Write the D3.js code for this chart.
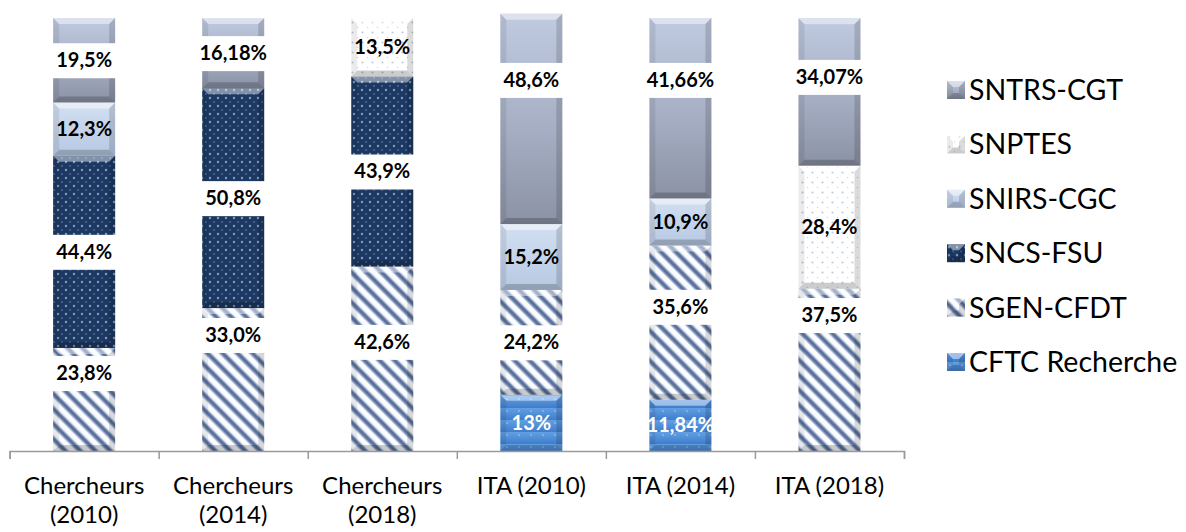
<!DOCTYPE html>
<html>
<head>
<meta charset="utf-8">
<script src="https://cdn.jsdelivr.net/npm/d3@7"></script>
<style>
  body { margin: 0; background: #fff; }
  text { font-family: Lato, "Open Sans", sans-serif; }
</style>
</head>
<body>
<script>
// categories + tick labels (wrapped like the original)
const categories = ["Chercheurs (2010)", "Chercheurs (2014)", "Chercheurs (2018)", "ITA (2010)", "ITA (2014)", "ITA (2018)"];
const tickLines = [["Chercheurs", "(2010)"], ["Chercheurs", "(2014)"], ["Chercheurs", "(2018)"], ["ITA (2010)"], ["ITA (2014)"], ["ITA (2018)"]];

// series, bottom to top, values as printed in the labels
const seriesNames = ["CFTC Recherche", "SGEN-CFDT", "SNCS-FSU", "SNIRS-CGC", "SNPTES", "SNTRS-CGT"];
const cftc  = ["",      "",      "",     "13",   "11,84", ""];
const sgen  = ["23,8",  "33,0",  "42,6", "24,2", "35,6",  "37,5"];
const sncs  = ["44,4",  "50,8",  "43,9", "",     "",      ""];
const snirs = ["12,3",  "",      "",     "15,2", "10,9",  ""];
const snptes = ["",     "",      "13,5", "",     "",      "28,4"];
const sntrs = ["19,5",  "16,18", "",     "48,6", "41,66", "34,07"];
const seriesValues = [cftc, sgen, sncs, snirs, snptes, sntrs];

// where the original places some labels (in % units), null = centered in segment
const labelAt = {
  "SGEN-CFDT": [18, 26.8, 25.2, null, 33.3, 31.4],
  "SNTRS-CGT": [null, null, null, 85.7, 85.7, 86.4]
};

const legendOrder = ["SNTRS-CGT", "SNPTES", "SNIRS-CGC", "SNCS-FSU", "SGEN-CFDT", "CFTC Recherche"];

const num = s => s === "" ? 0 : +s.replace(",", ".");

const rows = categories.map((c, i) => {
  const r = { cat: c };
  seriesNames.forEach((s, j) => { r[s] = num(seriesValues[j][i]); r[s + "_txt"] = seriesValues[j][i]; });
  return r;
});

const width = 1186, height = 532;
const svg = d3.select("body").append("svg").attr("width", width).attr("height", height);
const defs = svg.append("defs");

// ---- fills ----
const grad = (id, stops, vertical = true) => {
  const g = defs.append("linearGradient").attr("id", id)
    .attr("x1", 0).attr("y1", 0).attr("x2", vertical ? 0 : 1).attr("y2", vertical ? 1 : 0);
  stops.forEach(([o, c]) => g.append("stop").attr("offset", o).attr("stop-color", c));
};
grad("g-sntrs", [[0, "#C0CAE0"], [0.5, "#A8B1C6"], [1, "#8B92A5"]]);
grad("g-snirs", [[0, "#D3E0F2"], [1, "#B6C8E2"]]);
grad("g-cftc", [[0, "#62A0E4"], [1, "#3F7DCB"]]);

// diagonal stripes
const stripes = defs.append("pattern").attr("id", "p-sgen")
  .attr("patternUnits", "userSpaceOnUse").attr("width", 10.6).attr("height", 10.6)
  .attr("patternTransform", "rotate(-45)");
stripes.append("rect").attr("width", 10.6).attr("height", 10.6).attr("fill", "#FAFCFF");
stripes.append("rect").attr("x", 0).attr("width", 6).attr("height", 10.6).attr("fill", "#B4C4DE");
stripes.append("rect").attr("x", 1.4).attr("width", 3.2).attr("height", 10.6).attr("fill", "#5A6F98");

// dots on dark navy
const dots = defs.append("pattern").attr("id", "p-sncs")
  .attr("patternUnits", "userSpaceOnUse").attr("width", 8).attr("height", 8);
dots.append("rect").attr("width", 8).attr("height", 8).attr("fill", "#1E3961");
dots.append("circle").attr("cx", 2).attr("cy", 2).attr("r", 1.2).attr("fill", "#7C9CC8");
dots.append("circle").attr("cx", 6).attr("cy", 6).attr("r", 0.9).attr("fill", "#4F6F9E");

// light dots on white
const ldots = defs.append("pattern").attr("id", "p-snptes")
  .attr("patternUnits", "userSpaceOnUse").attr("width", 10).attr("height", 10);
ldots.append("rect").attr("width", 10).attr("height", 10).attr("fill", "#FFFFFF");
ldots.append("circle").attr("cx", 2.5).attr("cy", 2.5).attr("r", 1.1).attr("fill", "#BFCBE0");
ldots.append("circle").attr("cx", 7.5).attr("cy", 7.5).attr("r", 0.8).attr("fill", "#D3DCEA");

// dots on blue
const bdots = defs.append("pattern").attr("id", "p-cftc")
  .attr("patternUnits", "userSpaceOnUse").attr("width", 12).attr("height", 12);
bdots.append("rect").attr("width", 12).attr("height", 12).attr("fill", "url(#g-cftc)");
bdots.append("circle").attr("cx", 3).attr("cy", 3).attr("r", 1).attr("fill", "#8EB8EA");

const fills = {
  "CFTC Recherche": "url(#p-cftc)",
  "SGEN-CFDT": "url(#p-sgen)",
  "SNCS-FSU": "url(#p-sncs)",
  "SNIRS-CGC": "url(#g-snirs)",
  "SNPTES": "url(#p-snptes)",
  "SNTRS-CGT": "url(#g-sntrs)"
};
const boxed = new Set(["SGEN-CFDT", "SNCS-FSU", "SNTRS-CGT"]);

// ---- scales ----
const x = d3.scaleBand().domain(categories).range([9.6, 904])
  .paddingInner(0.584).paddingOuter(0.292);
const y = d3.scaleLinear().domain([0, 100]).range([451, 18]);

const stacked = d3.stack().keys(seriesNames)(rows);

// ---- bars ----
const bevel = (sel, x0, y0, w, h) => {
  const b = Math.min(6, h / 3);
  sel.append("path").attr("d", `M${x0},${y0}H${x0 + w}L${x0 + w - b},${y0 + b}H${x0 + b}Z`)
    .attr("fill", "#fff").attr("opacity", 0.45);
  sel.append("path").attr("d", `M${x0},${y0}L${x0 + b},${y0 + b}V${y0 + h - b}L${x0},${y0 + h}Z`)
    .attr("fill", "#000").attr("opacity", 0.08);
  sel.append("path").attr("d", `M${x0 + w},${y0}L${x0 + w - b},${y0 + b}V${y0 + h - b}L${x0 + w},${y0 + h}Z`)
    .attr("fill", "#000").attr("opacity", 0.14);
  sel.append("path").attr("d", `M${x0},${y0 + h}L${x0 + b},${y0 + h - b}H${x0 + w - b}L${x0 + w},${y0 + h}Z`)
    .attr("fill", "#000").attr("opacity", 0.2);
};

const barsG = svg.append("g");
stacked.forEach(layer => {
  layer.forEach((d, i) => {
    if (d[1] - d[0] <= 0) return;
    const x0 = x(d.data.cat), w = x.bandwidth();
    const y0 = y(d[1]), h = y(d[0]) - y(d[1]);
    const g = barsG.append("g");
    g.append("rect").attr("x", x0).attr("y", y0).attr("width", w).attr("height", h)
      .attr("fill", fills[layer.key]);
    bevel(g, x0, y0, w, h);
  });
});

// ---- labels ----
const labelsG = svg.append("g");
stacked.forEach(layer => {
  layer.forEach((d, i) => {
    if (d[1] - d[0] <= 0) return;
    const at = labelAt[layer.key] && labelAt[layer.key][i] != null ? labelAt[layer.key][i] : (d[0] + d[1]) / 2;
    const cx = x(d.data.cat) + x.bandwidth() / 2;
    const cy = y(at);
    const g = labelsG.append("g");
    const t = g.append("text").attr("x", cx).attr("y", cy + 7)
      .attr("text-anchor", "middle").attr("font-weight", 700).attr("font-size", 20)
      .attr("fill", layer.key === "CFTC Recherche" ? "#fff" : "#000")
      .text(d.data[layer.key + "_txt"] + "%");
    if (boxed.has(layer.key)) {
      const tw = t.node().getComputedTextLength();
      g.insert("rect", "text").attr("x", cx - tw / 2 - 7).attr("y", cy - 17)
        .attr("width", tw + 14).attr("height", 35).attr("fill", "#fff");
    }
  });
});

// ---- x axis ----
const xb = d3.scaleLinear().domain([0, categories.length]).range(x.range());
svg.append("g").attr("transform", "translate(0,451)")
  .call(d3.axisBottom(xb).ticks(categories.length).tickSize(8).tickSizeOuter(8).tickFormat(""))
  .call(g => g.selectAll("path,line").attr("stroke", "#9A9A9A").attr("stroke-width", 1.5));

const tickG = svg.append("g");
categories.forEach((c, i) => {
  const t = tickG.append("text").attr("x", x(c) + x.bandwidth() / 2).attr("y", 494)
    .attr("text-anchor", "middle").attr("font-size", 24).attr("fill", "#000");
  tickLines[i].forEach((line, k) => {
    t.append("tspan").attr("x", x(c) + x.bandwidth() / 2).attr("dy", k === 0 ? 0 : 29).text(line);
  });
});

// ---- legend ----
const legendIcon = {
  "SNTRS-CGT": "url(#g-sntrs)", "SNPTES": "url(#p-snptes)", "SNIRS-CGC": "url(#g-snirs)",
  "SNCS-FSU": "url(#p-sncs)", "SGEN-CFDT": "url(#p-sgen)", "CFTC Recherche": "url(#p-cftc)"
};
const legend = svg.append("g").attr("transform", "translate(947,90)");
legendOrder.forEach((name, i) => {
  const g = legend.append("g").attr("transform", `translate(0,${i * 54.4})`);
  g.append("rect").attr("x", 0).attr("y", -9).attr("width", 18).attr("height", 18)
    .attr("fill", legendIcon[name]);
  bevel(g, 0, -9, 18, 18);
  g.append("text").attr("x", 22).attr("y", 10).attr("font-size", 28.5).attr("fill", "#000").text(name);
});
</script>
</body>
</html>
